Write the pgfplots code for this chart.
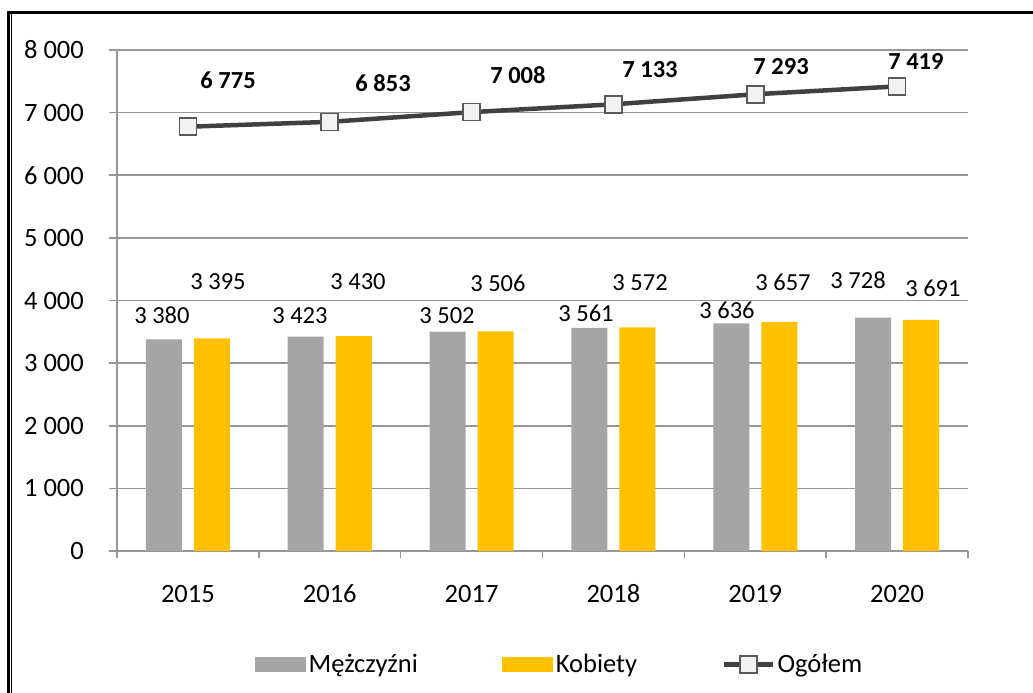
\documentclass[border=0pt]{standalone}
\usepackage{fontspec}
\setmainfont{Carlito}
\usepackage{pgfplots}
\pgfplotsset{compat=1.18}
\usepackage{pgfplotstable}
\definecolor{mgray}{HTML}{A5A5A5}
\definecolor{kyel}{HTML}{FFC000}
\definecolor{lgray}{HTML}{404040}
\definecolor{mkfill}{HTML}{F2F2F2}
\definecolor{mkdraw}{HTML}{595959}
\definecolor{gridc}{HTML}{969696}
\newcommand\fs{\fontsize{26.5bp}{31bp}\selectfont}
\newcommand\fl{\fontsize{24.5bp}{29bp}\selectfont}

\pgfplotsset{
  barleg/.style={legend image code/.code={\fill[##1] (0bp,-7.5bp) rectangle (51bp,7.5bp);}},
  lineleg/.style={legend image code/.code={\draw[##1, mark repeat=2, mark phase=2] plot coordinates {(0bp,0bp) (24.5bp,0bp) (49bp,0bp)};}},
}

\pgfplotstableread{
x m k t
0 3380 3395 6775
1 3423 3430 6853
2 3502 3506 7008
3 3561 3572 7133
4 3636 3657 7293
5 3728 3691 7419
}\data

\pgfplotstableread{
x y v
-0.183 3770 3380
0.790 3754 3423
1.827 3754 3502
2.807 3802 3561
3.801 3850 3636
4.725 4329 3728
}\mlab

\pgfplotstableread{
x y v
0.212 4297 3395
1.199 4297 3430
2.186 4281 3506
3.188 4281 3572
4.196 4297 3657
5.253 4201 3691
}\klab

\pgfplotstableread{
x y v
0.283 7524 6775
1.376 7476 6853
2.327 7604 7008
3.258 7683 7133
4.182 7731 7293
5.133 7811 7419
}\tlab

\begin{document}
\begin{tikzpicture}
\begin{axis}[
  scale only axis, width=851bp, height=501bp,
  at={(0,0)}, anchor=south west,
  xmin=-0.5, xmax=5.5, ymin=0, ymax=8000,
  enlargelimits=false, clip=false,
  axis x line*=bottom, axis y line*=left,
  axis line style={gridc, line width=1.6bp},
  xtick={0,...,5}, xticklabels={2015,2016,2017,2018,2019,2020},
  minor xtick={-0.5,0.5,...,5.5},
  ytick={0,1000,...,8000},
  scaled y ticks=false,
  ymajorgrids, grid style={gridc, line width=1.6bp},
  tick align=outside,
  major tick length=8bp, minor tick length=7bp,
  tick style={gridc, line width=1.6bp},
  major x tick style={draw=none},
  /pgf/number format/.cd, 1000 sep={\ }, assume math mode=true,
  /pgfplots/.cd,
  tick label style={font=\fs, text=black, inner sep=0pt},
  yticklabel style={anchor=east, xshift=-25bp},
  xticklabel style={anchor=base, yshift=-43bp},
  legend style={draw=none, fill=none, font=\fs, text=black,
    at={(axis description cs:0.5206,-0.2266)}, anchor=center,
    legend columns=3,
    /tikz/every even column/.append style={column sep=82bp},
    nodes={inner sep=2.5bp}},
  legend cell align=left,
]
\addplot[ybar, bar width=36bp, bar shift=-24bp, fill=mgray, draw=none, barleg]
  table[x=x, y=m] {\data};
\addlegendentry{Mężczyźni}
\addplot[ybar, bar width=36bp, bar shift=24bp, fill=kyel, draw=none, barleg]
  table[x=x, y=k] {\data};
\addlegendentry{Kobiety}
\addplot[lgray, line width=4.5bp, mark=square*,
  mark options={fill=mkfill, draw=mkdraw, line width=1.5bp, mark size=8.5bp}, lineleg]
  table[x=x, y=t] {\data};
\addlegendentry{Ogółem}

\addplot[draw=none, mark=none, forget plot, point meta=explicit,
  nodes near coords={\pgfmathprintnumber[assume math mode=true, 1000 sep={\ }]{\pgfplotspointmeta}},
  nodes near coords style={anchor=center, font=\fl, text=black, inner sep=0pt}]
  table[x=x, y=y, meta=v] {\mlab};
\addplot[draw=none, mark=none, forget plot, point meta=explicit,
  nodes near coords={\pgfmathprintnumber[assume math mode=true, 1000 sep={\ }]{\pgfplotspointmeta}},
  nodes near coords style={anchor=center, font=\fl, text=black, inner sep=0pt}]
  table[x=x, y=y, meta=v] {\klab};
\addplot[draw=none, mark=none, forget plot, point meta=explicit,
  nodes near coords={\pgfmathprintnumber[assume math mode=true, 1000 sep={\ }]{\pgfplotspointmeta}},
  nodes near coords style={anchor=center, font=\fl\bfseries, text=black, inner sep=0pt}]
  table[x=x, y=y, meta=v] {\tlab};
\end{axis}
% frame
\draw[black, line width=2.8bp] (-108.3bp,540.3bp) -- (-108.3bp,-142bp);
\draw[black, line width=1.3bp] (-105.4bp,537bp) -- (-105.4bp,-142bp);
\draw[black, line width=3.3bp] (-109.7bp,538.7bp) -- (916bp,538.7bp);
\pgfresetboundingbox
\useasboundingbox (-117bp,-142bp) rectangle (916bp,551bp);
\end{tikzpicture}
\end{document}
